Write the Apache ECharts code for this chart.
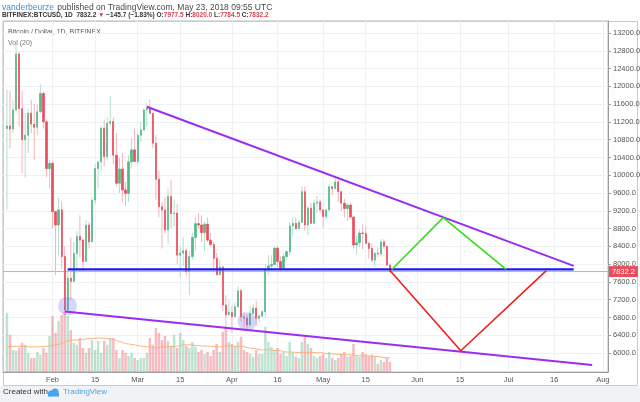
<!DOCTYPE html>
<html><head><meta charset="utf-8">
<script src="https://cdn.jsdelivr.net/npm/echarts@6/dist/echarts.min.js"></script>
<style>html,body{margin:0;padding:0;background:#fff;}#c{width:640px;height:402px;}</style>
</head><body><div id="c"></div>
<script>
// ---- data (BITFINEX:BTCUSD daily) ----
const startDate = '2018-01-17';
const opens = [11050,11110,11040,11470,12730,11500,10800,10900,11400,11150,11080,11430,11840,11200,10150,
10270,9180,8880,9220,8170,6970,7680,7610,8240,8620,8540,8060,8880,8500,9440,10150,10300,11060,10420,11170,11210,10450,9820,10140,9670,9590,10300,10570,
10310,10900,11020,11470,11500,11390,10720,9910,9290,9220,8770,9520,9140,9150,8200,8250,8300,7830,8170,8600,8910,8880,8710,8900,8540,8440,8130,7760,7930,7080,6860,
6910,6820,7040,7400,6810,6790,6630,6890,7010,6780,6830,6930,7870,7960,7990,8360,8060,7900,8170,8280,8860,8920,8800,8940,9630,8880,9260,8920,9370,9400,
9220,9070,9220,9740,9700,9850,9630,9370,9250,9330,9060,8430,8480,8700,8690,8470,8350,8090,8240,8230,8500,8400,7977.5];
const highs = [11920,11900,11700,12950,12780,11900,11400,11500,11700,11600,11600,12050,11880,11250,10350,
10300,9200,9500,9400,8400,7900,8600,8500,8750,9100,8580,8990,8950,9500,10250,10300,11100,11250,11300,11780,11300,10950,10400,10500,9850,10450,10850,11050,
10950,11200,11500,11620,11700,11400,10900,10100,9400,9500,9700,9900,9450,9350,8400,8600,8350,8300,8700,9050,9150,9100,8950,9050,8700,8500,8250,8100,7970,7300,7200,
7050,7150,7500,7440,6920,6860,7050,7100,7180,6880,6960,8000,8200,8200,8400,8400,8180,8240,8300,8950,9050,9050,9000,9750,9750,9300,9380,9450,9530,9450,
9230,9250,9790,9760,9950,9900,9650,9470,9380,9380,9070,8650,8780,8890,8850,8490,8470,8270,8380,8570,8560,8410,8020];
const lows = [9220,10600,10950,11400,11100,10050,9950,10500,10950,10350,10900,11400,11050,9950,9700,
8800,7750,8200,7900,6870,6920,7200,7600,7800,8150,7850,8050,8350,8500,9350,9700,10100,10200,10350,11100,10250,9750,9600,9400,9300,9400,10150,10300,
10250,10750,11000,11100,11400,10600,9450,9050,8350,8700,8450,8800,8850,8000,7700,7950,7750,7300,8100,8300,8800,8500,8300,8500,8400,7850,7750,7750,6950,6550,6850,
6450,6800,7020,6710,6580,6540,6620,6880,6620,6680,6800,6800,7760,7830,7980,7920,7840,7880,8100,8200,8620,8770,8790,8930,8750,8650,8900,8900,9150,9150,
8820,9000,9180,9550,9690,9400,9200,9050,8980,9020,8350,8220,8380,8340,8450,8130,8040,7940,8150,8170,8340,7950,7784.5];
const closes = [11110,11040,11470,12730,11500,10800,10900,11400,11150,11080,11430,11840,11200,10150,10270,
9180,8880,9220,8170,6970,7680,7610,8240,8620,8540,8060,8880,8500,9440,10150,10300,11060,10420,11170,11210,10450,9820,10140,9670,9590,10300,10570,10310,
10900,11020,11470,11500,11390,10720,9910,9290,9220,8770,9520,9140,9150,8200,8250,8300,7830,8170,8600,8910,8880,8710,8900,8540,8440,8130,7760,7930,7080,6860,6910,
6820,7040,7400,6810,6790,6630,6890,7010,6780,6830,6930,7870,7960,7990,8360,8060,7900,8170,8280,8860,8920,8800,8940,9630,8880,9260,8920,9370,9400,9220,
9070,9220,9740,9700,9850,9630,9370,9250,9330,9060,8430,8480,8700,8690,8470,8350,8090,8240,8230,8500,8400,7977.5,7832.2];
// volume, thousand BTC
const volumes = [148,93,55,53,60,73,68,48,35,35,50,43,60,48,90,
140,98,128,143,150,140,105,73,68,85,60,48,60,80,55,78,48,78,68,85,85,55,35,55,48,40,48,35,
30,35,35,48,85,68,110,98,80,90,78,65,93,60,98,80,65,60,75,63,50,55,45,50,40,55,70,50,100,113,75,
70,63,75,88,55,50,45,38,55,45,45,113,75,63,55,60,45,50,40,75,50,38,35,75,88,70,60,40,35,40,
45,35,50,35,30,35,45,50,38,40,70,40,38,50,45,40,43,38,20,30,25,35,25];
// Vol (20) moving average as drawn
const volumeMA = [64,64,64,64,64,64,64,63,63,63,63,63,64,64,65,
66,68,69,71,74,78,79,80,80,81,81,83,83,84,84,85,85,84,83,83,81,79,76,74,71,70,69,68,
66,65,64,63,63,61,61,61,63,63,63,64,64,65,66,68,68,68,68,66,66,65,65,65,64,64,63,63,64,65,65,
65,64,64,64,63,61,60,59,58,56,55,56,56,55,54,53,53,51,50,50,50,49,49,49,49,49,49,49,48,48,
48,46,46,45,45,44,44,43,43,43,43,41,41,40,40,40,40,39,38,38,36,36,35];
const priceTicks = [6000,6400,6800,7200,7600,8000,8400,8800,9200,9600,10000,10400,10800,11200,11600,12000,12400,12800,13200];
const dateTicks = ['2018-02-01','2018-02-15','2018-03-01','2018-03-15','2018-04-01','2018-04-16','2018-05-01','2018-05-15','2018-06-01','2018-06-15','2018-07-01','2018-07-16','2018-08-01'];
const dateTickLabels = ['Feb','15','Mar','15','Apr','16','May','15','Jun','15','Jul','16','Aug'];
const lastPrice = 7832.2;
// drawings on the chart: [time, price]
const upperTrend = [['2018-03-04T00:00Z',11540],['2018-07-22T10:00Z',7960]];
const lowerTrend = [['2018-02-05T02:00Z',6934],['2018-07-28T12:00Z',5730]];
const supportLine = [['2018-02-06T00:00Z',7880],['2018-07-22T10:00Z',7880]];
const bullPath = [['2018-05-23T14:00Z',7880],['2018-06-09T12:00Z',9045],['2018-06-30T05:00Z',7880]];
const bearPath = [['2018-05-23T00:00Z',7855],['2018-06-15T07:00Z',6050],['2018-07-13T10:00Z',7855]];
const markedLows = [['2018-02-05T22:00Z',7057],['2018-04-06T00:00Z',6705]];
const viewRange = ['2018-01-15T17:00Z','2018-08-02T17:00Z'];
const priceRange = [5572.5, 13470];
const volumeRange = [0, 877.5];

// ---- build ----
const DAY = 86400000, BASE = Date.UTC(2018,1,1);
const dayOf = s => (Date.parse(s.length===10 ? s+'T00:00Z' : s) - BASE)/DAY;
const first = dayOf(startDate);
const xs = opens.map((_,i)=>first+i);
const xMin = dayOf(viewRange[0]), xMax = dayOf(viewRange[1]);
const tickVals = dateTicks.map(dayOf);
const UP='#53b987', DN='#eb4d5c', UPW='#b5dfc8', DNW='#f5b3b9';
const isUp = i => closes[i] >= opens[i];
const bodies = opens.map((o,i)=>[xs[i], o, closes[i], Math.min(o,closes[i]), Math.max(o,closes[i])]);
const wickUp = [], wickDn = [];
opens.forEach((o,i)=>{ const seg = [[xs[i], lows[i]], [xs[i], highs[i]], null];
  (isUp(i) ? wickUp : wickDn).push(...seg); });
const vols = volumes.map((v,i)=>({value:[xs[i],v], itemStyle:{color: isUp(i)?'rgba(83,185,135,0.38)':'rgba(235,77,92,0.38)'}}));
const pts = arr => arr.map(p=>[dayOf(p[0]), p[1]]);
const FONT = '"Liberation Sans", Arial, sans-serif';
const lineSeries = (data,color,w,z)=>({type:'line', xAxisIndex:0, yAxisIndex:0, data:data, symbol:'none', silent:true, z:z||6,
  connectNulls:false, lineStyle:{color:color,width:w}, animation:false});
const hiddenAxis = {show:false, axisLine:{show:false,onZero:false}, axisTick:{show:false}, axisLabel:{show:false}, splitLine:{show:false}};

const priceLine = lineSeries([[xMin,lastPrice],[xMax,lastPrice]], '#f29aa2', 1, 2);
priceLine.endLabel = {show:true, formatter:String(lastPrice), color:'#fff', backgroundColor:DN,
  padding:[2,3,1,3], fontSize:7.5, distance:1, fontFamily:FONT};

const chart = echarts.init(document.getElementById('c'), null, {renderer:'canvas'});
chart.setOption({
  animation:false,
  backgroundColor:'#ffffff',
  textStyle:{fontFamily:FONT},
  grid:[
    {left:3, right:32, top:21, bottom:30, show:true, borderColor:'#b5b9be', borderWidth:1, backgroundColor:'#fff', outerBoundsMode:'none', containLabel:false}
  ],
  xAxis:[
    {type:'value', gridIndex:0, min:xMin, max:xMax,
     axisLine:{show:true, onZero:false, lineStyle:{color:'#9a9ea3'}},
     axisTick:{show:false, customValues:tickVals},
     axisLabel:{customValues:tickVals, color:'#555', fontSize:7.5, margin:4, fontFamily:FONT,
       formatter:v=>{let k=0,b=1e9;tickVals.forEach((t,j)=>{if(Math.abs(t-v)<b){b=Math.abs(t-v);k=j;}});return dateTickLabels[k];}},
     splitLine:{show:true, lineStyle:{color:'#eef2f6', width:1}}}
  ],
  yAxis:[
    {type:'value', gridIndex:0, position:'right', min:priceRange[0], max:priceRange[1],
     axisLine:{show:true, onZero:false, lineStyle:{color:'#9a9ea3'}},
     axisTick:{show:true, customValues:priceTicks, length:3, lineStyle:{color:'#9a9ea3'}},
     axisLabel:{customValues:priceTicks, formatter:v=>v.toFixed(1), color:'#555', fontSize:7.5, margin:5, fontFamily:FONT},
     splitLine:{show:true, lineStyle:{color:'#eef2f6', width:1}}},
    Object.assign({type:'value', gridIndex:0, position:'left', min:volumeRange[0], max:volumeRange[1]}, hiddenAxis)
  ],
  series:[
    {type:'bar', xAxisIndex:0, yAxisIndex:1, data:vols, barWidth:2.5, silent:true, z:1},
    {type:'line', xAxisIndex:0, yAxisIndex:1, data:volumeMA.map((v,i)=>[xs[i],v]), symbol:'none', silent:true, z:2,
     lineStyle:{color:'#f7b47e', width:1}},
    priceLine,
    lineSeries(wickUp, UPW, 1, 3),
    lineSeries(wickDn, DNW, 1, 3),
    {type:'candlestick', xAxisIndex:0, yAxisIndex:0, data:bodies, encode:{x:0,y:[1,2,3,4]}, barWidth:1.8, silent:true, z:4,
     itemStyle:{color:UP, color0:DN, borderColor:UP, borderColor0:DN, borderColorDoji:DN, borderWidth:0.7}},
    {type:'scatter', xAxisIndex:0, yAxisIndex:0, data:pts(markedLows), symbolSize:19, silent:true, z:5,
     itemStyle:{color:'rgba(120,120,235,0.38)'}},
    lineSeries(pts(lowerTrend),'#9b2cf2',2),
    lineSeries(pts(upperTrend),'#9b2cf2',2),
    lineSeries(pts(supportLine),'#1a1af5',2.2),
    lineSeries(pts(bullPath),'#2ee312',1.6),
    lineSeries(pts(bearPath),'#f51c1c',1.6)
  ],
  graphic:[
    {type:'rect', shape:{x:0,y:386,width:640,height:16}, style:{fill:'#f0f3f6'}, silent:true},
    {type:'rect', shape:{x:3.5,y:21.5,width:634,height:364}, style:{fill:'none', stroke:'#c7cbd0', lineWidth:1}, silent:true},
    {type:'text', left:2, top:2, silent:true, style:{text:'{a|vanderbeurze} {b|published on TradingView.com, May 23, 2018 09:55 UTC}',
      rich:{a:{fill:'#3d8fd6',fontSize:8.5,fontFamily:FONT}, b:{fill:'#4a4a4a',fontSize:8.5,fontFamily:FONT}}}},
    {type:'text', left:2, top:11.5, silent:true, style:{text:'{k|BITFINEX:BTCUSD, 1D  7832.2 }{r|▼}{k| −145.7 (−1.83%) O:}{r|7977.5}{k| H:}{r|8020.0}{k| L:}{r|7784.5}{k| C:}{r|7832.2}',
      rich:{k:{fill:'#333',fontSize:6.5,fontWeight:'bold',fontFamily:FONT}, r:{fill:'#d9414f',fontSize:6.5,fontWeight:'bold',fontFamily:FONT}}}},
    {type:'text', left:8, top:29, silent:true, style:{text:'Bitcoin / Dollar, 1D, BITFINEX', fill:'#555', fontSize:7, fontFamily:FONT}},
    {type:'text', left:8, top:40, silent:true, style:{text:'Vol (20)', fill:'#777', fontSize:7, fontFamily:FONT}},
    {type:'text', left:3, top:388, silent:true, style:{text:'Created with', fill:'#333', fontSize:8, fontFamily:FONT}},
    {type:'circle', shape:{cx:51,cy:393.5,r:3}, style:{fill:'#4aa3e8'}, silent:true},
    {type:'circle', shape:{cx:55,cy:392,r:3.6}, style:{fill:'#4aa3e8'}, silent:true},
    {type:'rect', shape:{x:48,y:393,width:11,height:3.5}, style:{fill:'#4aa3e8'}, silent:true},
    {type:'text', left:63, top:388, silent:true, style:{text:'TradingView', fill:'#4aa3e8', fontSize:8, fontFamily:FONT}}
  ]
});
</script></body></html>
